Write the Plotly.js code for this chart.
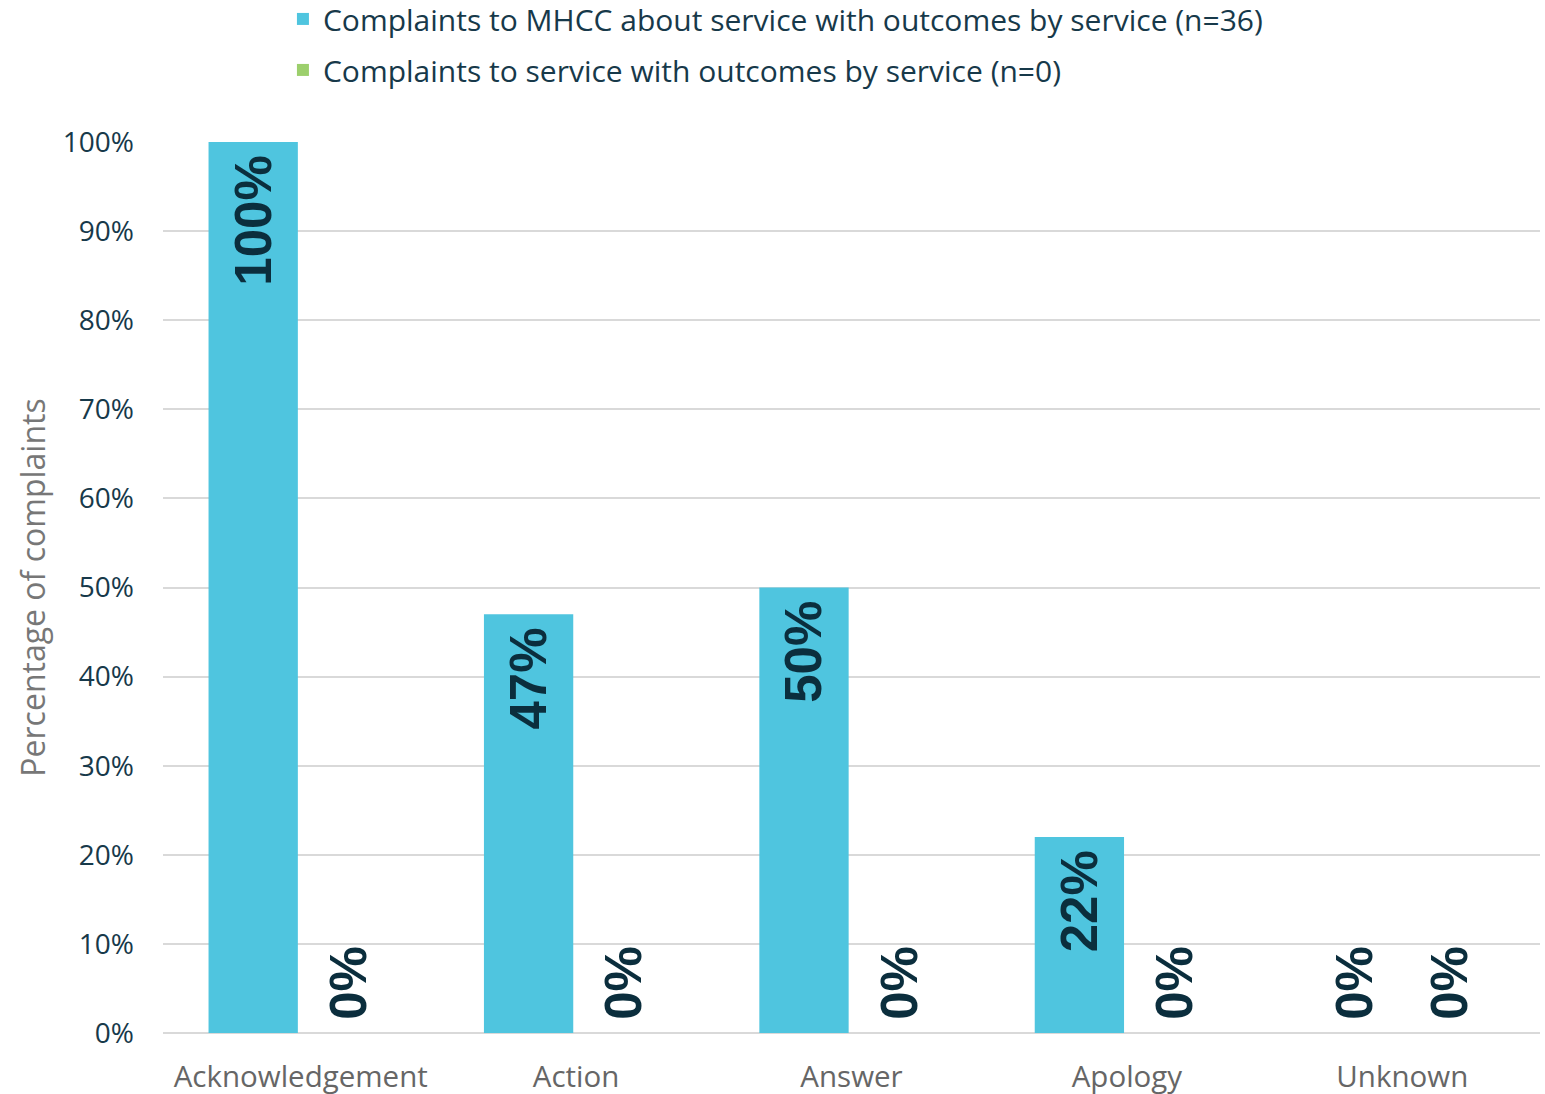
<!DOCTYPE html>
<html>
<head>
<meta charset="utf-8">
<script src="https://cdn.plot.ly/plotly-3.0.1.min.js"></script>
<style>html,body{margin:0;padding:0;background:#fff;}#chart{width:1545px;height:1094px;}</style>
</head>
<body>
<div id="chart"></div>
<script>
const categories = ["Acknowledgement", "Action", "Answer", "Apology", "Unknown"];
const mhccValues = [100, 47, 50, 22, 0];
const serviceValues = [0, 0, 0, 0, 0];
const seriesNames = [
  "Complaints to MHCC about service with outcomes by service (n=36)",
  "Complaints to service with outcomes by service (n=0)"
];
const yTicks = [0, 10, 20, 30, 40, 50, 60, 70, 80, 90, 100];

const FONT = "Open Sans, Liberation Sans, Arial, sans-serif";
const BOLD = "Liberation Sans, Arial, sans-serif";
const labelFont = {family: BOLD, size: 51, color: "#0b2e3d", weight: "bold"};
const THIN = "\u2009";

function positions(vals) { return vals.map(v => v > 0 ? "inside" : "outside"); }
// thin space pads the label away from the bar end (inside: top; outside: above zero)
function labels(vals) { return vals.map(v => v > 0 ? v + "%" + THIN : THIN + v + "%"); }

const traces = [
  {
    type: "bar", name: seriesNames[0], x: categories, y: mhccValues,
    marker: {color: "#4fc5df"},
    text: labels(mhccValues), texttemplate: "%{text}",
    textposition: positions(mhccValues), insidetextanchor: "end",
    textangle: -90, textfont: labelFont, insidetextfont: labelFont, outsidetextfont: labelFont,
    cliponaxis: false, constraintext: "none", legendgroup: "a", hoverinfo: "none"
  },
  {
    type: "bar", name: seriesNames[1], x: categories, y: serviceValues,
    marker: {color: "#9ccf6c"},
    text: labels(serviceValues), texttemplate: "%{text}",
    textposition: positions(serviceValues), insidetextanchor: "end",
    textangle: -90, textfont: labelFont, insidetextfont: labelFont, outsidetextfont: labelFont,
    cliponaxis: false, constraintext: "none", legendgroup: "b", hoverinfo: "none"
  }
];

const layout = {
  width: 1545, height: 1094,
  margin: {l: 163, r: 5, t: 142, b: 61, autoexpand: false},
  paper_bgcolor: "#ffffff", plot_bgcolor: "#ffffff",
  font: {family: FONT, color: "#17394a"},
  barmode: "group", bargap: 0.31, bargroupgap: 0.06,
  showlegend: true,
  legend: {
    orientation: "v", xref: "paper", yref: "paper",
    x: 0.0871, y: 1.1673, xanchor: "left", yanchor: "top",
    font: {family: FONT, size: 30, color: "#17394a"},
    tracegroupgap: 9, itemwidth: 30, bgcolor: "rgba(0,0,0,0)"
  },
  xaxis: {
    type: "category", showgrid: false, zeroline: false,
    showline: false, tickangle: 0, automargin: false,
    ticks: "", ticklabelstandoff: 23,
    tickfont: {family: FONT, size: 29.5, color: "#666666"}
  },
  yaxis: {
    range: [0, 100], tickvals: yTicks, ticktext: yTicks.map(v => v + "%"),
    showgrid: true, gridcolor: "#d9d9d9", gridwidth: 2,
    zeroline: true, zerolinecolor: "#d9d9d9", zerolinewidth: 2,
    showline: false, automargin: false,
    ticks: "", ticklabelstandoff: 28,
    tickfont: {family: FONT, size: 28, color: "#17394a"},
    title: {text: "Percentage of complaints", font: {family: FONT, size: 32, color: "#777777"}, standoff: 7}
  }
};

Plotly.newPlot("chart", traces, layout, {displayModeBar: false, staticPlot: true});
</script>
</body>
</html>
